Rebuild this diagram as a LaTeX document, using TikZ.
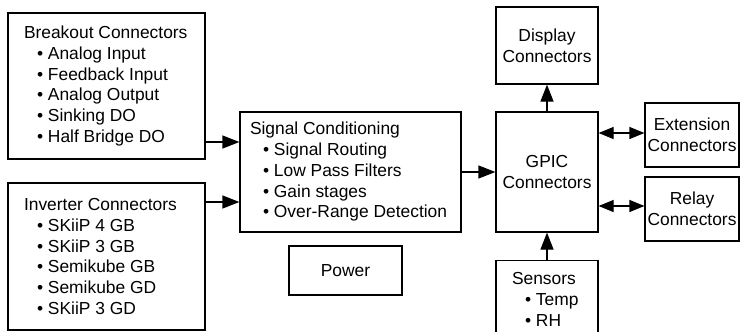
\documentclass[tikz,border=0pt]{standalone}
\usepackage{fontspec}
\setmainfont{Liberation Sans}
\usetikzlibrary{arrows.meta}
\newcommand{\bulletline}{\\\hspace*{0.75em}\textbullet\ }

\begin{document}
\begin{tikzpicture}[x=1pt,y=-1pt,
	box/.style={draw, line width=1.2pt, inner sep=0pt, align=center, font=\fontsize{17.4}{20.75}\selectfont},
	listbox/.style={box, align=flush left},
	arr/.style={line width=1.2pt, -{Triangle[length=17pt,width=13pt]}},
	dblarr/.style={line width=1.2pt, {Triangle[length=15pt,width=12pt]}-{Triangle[length=15pt,width=12pt]}}]
\useasboundingbox (0,0) rectangle (742,332);
% left column
\node [listbox, minimum height=146pt, text width=165pt, inner xsep=16pt] (breakout) at (106.5,86)
	{Breakout Connectors\bulletline Analog Input\bulletline Feedback Input\bulletline Analog Output\bulletline Sinking DO\bulletline Half Bridge DO};
\node [listbox, minimum height=147pt, text width=165pt, inner xsep=16pt] (inverter) at (106.5,256.5)
	{Inverter Connectors\bulletline SKiiP 4 GB\bulletline SKiiP 3 GB\bulletline Semikube GB\bulletline Semikube GD\bulletline SKiiP 3 GD};
% middle
\node [listbox, minimum height=120pt, text width=201pt, inner xsep=10pt] (signal) at (350.5,172)
	{Signal Conditioning\bulletline Signal Routing\bulletline Low Pass Filters\bulletline Gain stages\bulletline Over-Range Detection};
\node [box, minimum width=113pt, minimum height=49pt] (power) at (345.5,270.5) {Power};
% right
\node [box, minimum width=102pt, minimum height=120pt] (gpic) at (547,172) {GPIC\\Connectors};
\node [box, minimum width=102pt, minimum height=77pt] (display) at (547,45.5) {Display\\Connectors};
\node [box, minimum width=94pt, minimum height=64pt] (extension) at (692,135) {Extension\\Connectors};
\node [box, minimum width=94pt, minimum height=64pt] (relay) at (692,209) {Relay\\Connectors};
\node [listbox, anchor=north, text width=70pt, inner xsep=16pt, inner ysep=12pt] (sensors) at (547,260)
	{Sensors\bulletline Temp\bulletline RH};
\coordinate (bk) at ([yshift=30pt]signal.west);
\coordinate (iv) at ([yshift=-30pt]signal.west);
\coordinate (ex) at ([yshift=2pt]extension.west);
\coordinate (rl) at ([yshift=3pt]relay.west);
\draw [arr] (breakout.east |- bk) -- (bk);
\draw [arr] (inverter.east |- iv) -- (iv);
\draw [arr] (signal.east) -- (gpic.west);
\draw [arr] (gpic.north) -- (display.south);
\draw [arr] (sensors.north) -- (gpic.south);
\draw [dblarr] (gpic.east |- ex) -- (ex);
\draw [dblarr] (gpic.east |- rl) -- (rl);
\end{tikzpicture}
\end{document}
